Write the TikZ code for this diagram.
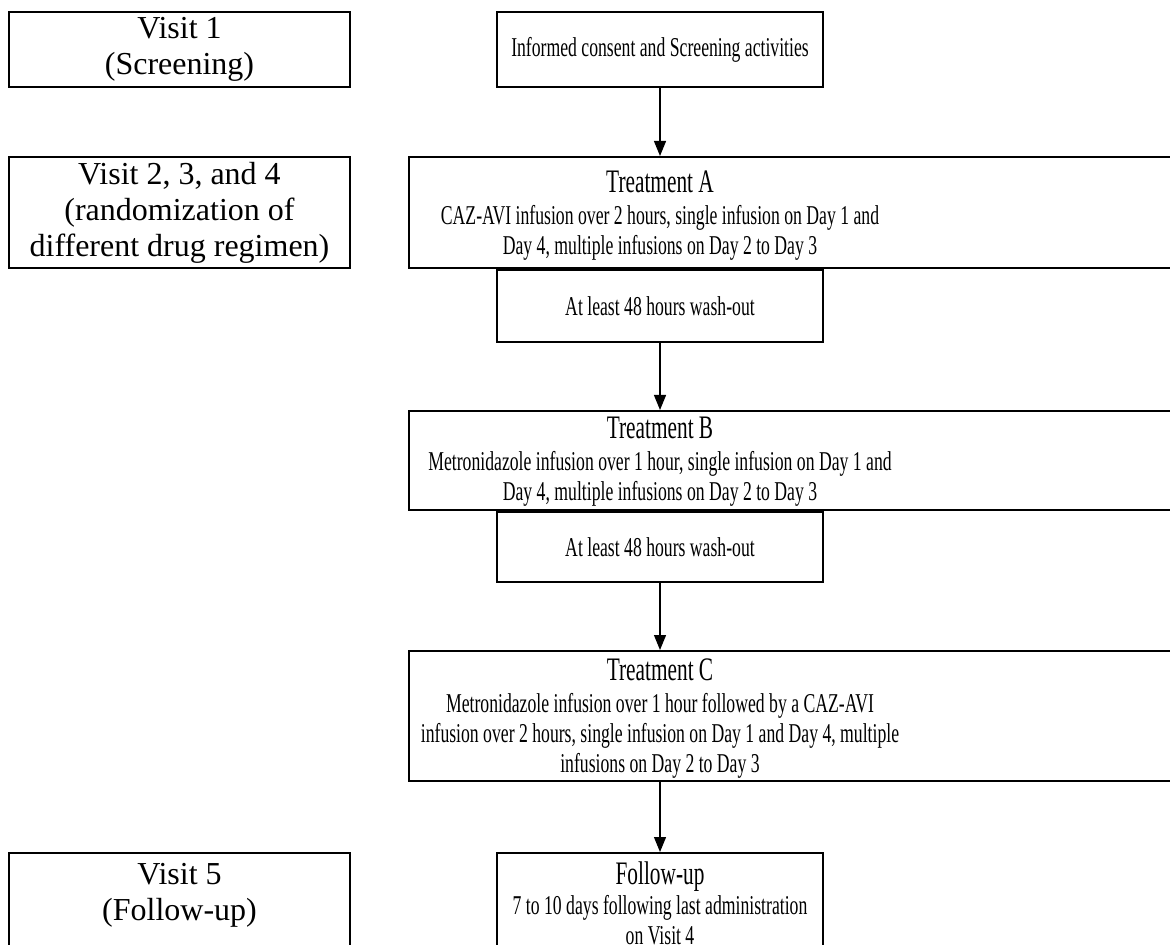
\documentclass[tikz,border=0pt]{standalone}
\usepackage{fontspec}
\setmainfont{Liberation Serif}
\newfontfamily\narrowfont[FakeStretch=0.65]{Liberation Serif}
\usetikzlibrary{arrows.meta,positioning}
\tikzset{
	visitbox/.style={draw,line width=1pt,minimum width=170.5pt,align=center,inner sep=2pt,font=\fontsize{16}{18}\selectfont},
	flowbox/.style={draw,line width=1pt,minimum width=163pt,align=center,inner sep=2pt,font=\narrowfont\fontsize{13.6}{15}\selectfont},
	trtbox/.style={draw,line width=1pt,minimum width=390.5pt},
	trttext/.style={align=center,inner sep=0pt,font=\narrowfont\fontsize{13.6}{15}\selectfont},
	flowarrow/.style={line width=0.6pt,-{Triangle[length=7.5pt,width=6pt]}},
}
\newcommand{\trttitle}[1]{{\fontsize{16.4}{17}\selectfont #1}}

\begin{document}
\begin{tikzpicture}[x=0.5pt,y=-0.5pt]
		\useasboundingbox (0,0) rectangle (1170,945);
		\clip (0,0) rectangle (1170,945);
		%
		\node[visitbox,minimum height=37.5pt] (v1) at (179.5,49.5) {Visit 1\\(Screening)};
		\node[visitbox,minimum height=55.5pt] (v2) at (179.5,212.5) {Visit 2, 3, and 4\\(randomization of\\different drug regimen)};
		\node[visitbox,anchor=north,inner ysep=5pt,text depth=50pt] (v5) at (179.5,852) {Visit 5\\(Follow-up)};
		%
		\node[flowbox,minimum height=37.5pt] (ic) at (660,49.5) {Informed consent and Screening activities};
		\node[trtbox,minimum height=55.5pt] (ta) at (799.5,212.5) {};
		\node[trttext] (tatext) at (660,216) {\trttitle{Treatment A}\\[1pt]CAZ-AVI infusion over 2 hours, single infusion on Day 1 and\\Day 4, multiple infusions on Day 2 to Day 3};
		\node[flowbox,minimum height=36pt,anchor=north] (wa) at (ta.south -| ic) {At least 48 hours wash-out};
		\node[trtbox,minimum height=49.5pt] (tb) at (799.5,460.5) {};
		\node[trttext] (tbtext) at (660,462) {\trttitle{Treatment B}\\[1pt]Metronidazole infusion over 1 hour, single infusion on Day 1 and\\Day 4, multiple infusions on Day 2 to Day 3};
		\node[flowbox,minimum height=35pt,anchor=north] (wb) at (tb.south -| ic) {At least 48 hours wash-out};
		\node[trtbox,minimum height=65pt] (tc) at (799.5,716) {};
		\node[trttext] (tctext) at (660,719) {\trttitle{Treatment C}\\[1pt]Metronidazole infusion over 1 hour followed by a CAZ-AVI\\infusion over 2 hours, single infusion on Day 1 and Day 4, multiple\\infusions on Day 2 to Day 3};
		\node[flowbox,anchor=north,inner ysep=4.5pt,text depth=50pt] (fu) at (660,852) {\trttitle{Follow-up}\\7 to 10 days following last administration\\on Visit 4};
		%
		\draw[flowarrow] (ic) -- (ic |- ta.north);
		\draw[flowarrow] (wa) -- (wa |- tb.north);
		\draw[flowarrow] (wb) -- (wb |- tc.north);
		\draw[flowarrow] (tc.south -| fu) -- (fu);
\end{tikzpicture}
\end{document}
